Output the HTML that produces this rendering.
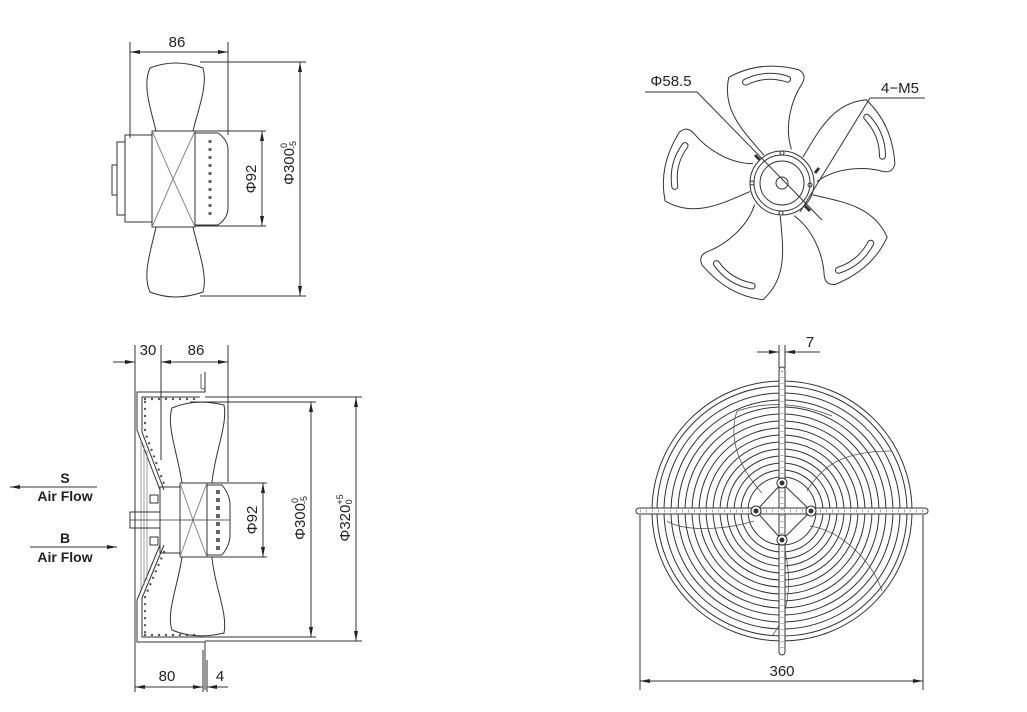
<!DOCTYPE html>
<html><head><meta charset="utf-8"><style>
html,body{margin:0;padding:0;background:#fff;}
svg{display:block;}
text{font-family:"Liberation Sans",sans-serif;fill:#222;}
</style></head><body>
<svg width="1027" height="712" viewBox="0 0 1027 712" xmlns="http://www.w3.org/2000/svg">
<defs>
<marker id="a" viewBox="0 0 10 4" refX="10" refY="2" markerWidth="10" markerHeight="4" orient="auto-start-reverse" markerUnits="userSpaceOnUse"><path d="M0,0 L10,2 L0,4 Z" fill="#222"/></marker>
<g id="blade">
<path d="M-14,-30 C-30,-55 -50,-80 -38,-112 Q-5,-125 32,-110 Q40,-104 34,-96 C20,-80 10,-55 14,-32" fill="#fff" stroke="#333" stroke-width="1"/>
<path d="M-22,-105 Q0,-112 20,-102" fill="none" stroke="#333" stroke-width="7" stroke-linecap="round"/>
<path d="M-22,-105 Q0,-112 20,-102" fill="none" stroke="#fff" stroke-width="5" stroke-linecap="round"/>
</g>
</defs>
<g fill="none" stroke="#333" stroke-width="1">
<!-- ===== TOP LEFT ===== -->
<line x1="130" y1="42" x2="130" y2="138"/><line x1="228" y1="42" x2="228" y2="135"/>
<line x1="130" y1="52" x2="228" y2="52" marker-start="url(#a)" marker-end="url(#a)"/>
<path d="M150,68 Q175,58 203,68 C208,85 198,110 193,131 L156,131 C151,110 142,85 150,68 Z"/>
<path d="M150,292 Q175,302 203,292 C208,275 198,250 193,227 L156,227 C151,250 142,275 150,292 Z"/>
<rect x="125" y="135" width="27" height="87"/><rect x="117" y="142" width="8" height="73"/>
<rect x="112" y="165" width="5" height="30"/>
<rect x="152" y="131" width="43" height="96"/>
<path d="M152,131 L173,179 L152,227 M195,131 L173,179 L195,227" stroke="#888"/>
<path d="M195,133 L218,133 Q228,140 228,150 L228,208 Q228,218 218,225 L195,225"/>
<path d="M210,140 V220" stroke-dasharray="3 5" stroke-width="3" stroke="#666"/>
<line x1="195" y1="131" x2="266" y2="131"/><line x1="195" y1="226" x2="266" y2="226"/>
<line x1="262" y1="131" x2="262" y2="226" marker-start="url(#a)" marker-end="url(#a)"/>
<line x1="200" y1="62" x2="306" y2="62"/><line x1="200" y1="296" x2="306" y2="296"/>
<line x1="300" y1="62" x2="300" y2="296" marker-start="url(#a)" marker-end="url(#a)"/>

<!-- ===== BOTTOM LEFT ===== -->
<line x1="135" y1="345" x2="135" y2="692"/><line x1="161" y1="345" x2="161" y2="460"/>
<line x1="228" y1="345" x2="228" y2="482"/>
<line x1="113" y1="362" x2="135" y2="362" marker-end="url(#a)"/>
<line x1="161" y1="362" x2="228" y2="362" marker-start="url(#a)" marker-end="url(#a)"/>
<path d="M205,372 L205,392 L137,392 L137,430 L160,490 L160,545 L137,600 L137,642 L205,642 L205,690"/>
<path d="M201,374 L201,388 Q203,390 205,388" stroke-width="0.8"/>
<path d="M200,397 L142,397 L142,432 L164,490 M164,545 L142,598 L142,637 L200,637"/>
<path d="M145,399 L198,399 M145,402 V432 L164,484 M164,552 L145,597 V635 M145,635 H198" stroke-dasharray="0 7" stroke-linecap="round" stroke-width="2.4" stroke="#555"/>
<path d="M141,440 V590 M144,445 V585 M147,450 V580" stroke="#777" stroke-width="0.7"/>
<path d="M172,408 Q195,398 224,405 C228,425 214,455 212,483 L182,483 C178,455 166,425 172,408 Z"/>
<path d="M172,630 Q195,640 224,633 C228,613 214,585 212,557 L182,557 C178,585 166,613 172,630 Z"/>
<rect x="160" y="487" width="20" height="66"/>
<rect x="180" y="483" width="27" height="74"/>
<path d="M180,483 L193,520 L180,557 M207,483 L193,520 L207,557" stroke="#888"/>
<path d="M207,485 L222,485 Q230,495 230,505 L230,535 Q230,545 222,555 L207,555"/>
<path d="M218,490 V552" stroke-dasharray="4 4" stroke-width="4" stroke="#666"/>
<rect x="130" y="512" width="30" height="16"/>
<line x1="130" y1="520" x2="230" y2="520" stroke-width="0.7"/>
<rect x="150" y="495" width="8" height="8"/><rect x="150" y="537" width="8" height="8"/>
<line x1="207" y1="483" x2="267" y2="483"/><line x1="207" y1="557" x2="267" y2="557"/>
<line x1="263" y1="483" x2="263" y2="557" marker-start="url(#a)" marker-end="url(#a)"/>
<line x1="190" y1="402" x2="316" y2="402"/><line x1="190" y1="637" x2="316" y2="637"/>
<line x1="311" y1="402" x2="311" y2="637" marker-start="url(#a)" marker-end="url(#a)"/>
<line x1="205" y1="397" x2="362" y2="397"/><line x1="205" y1="641" x2="362" y2="641"/>
<line x1="356" y1="397" x2="356" y2="641" marker-start="url(#a)" marker-end="url(#a)"/>
<line x1="203" y1="650" x2="203" y2="692"/><line x1="207" y1="660" x2="207" y2="692"/>
<line x1="135" y1="687" x2="203" y2="687" marker-start="url(#a)" marker-end="url(#a)"/>
<line x1="207" y1="687" x2="228" y2="687" marker-start="url(#a)"/>
<line x1="10" y1="487" x2="97" y2="487" marker-start="url(#a)"/>
<line x1="30" y1="547" x2="117" y2="547" marker-end="url(#a)"/>

<!-- ===== TOP RIGHT ===== -->
<g transform="translate(782,183)">
<use href="#blade" transform="rotate(-8)"/>
<use href="#blade" transform="rotate(64)"/>
<use href="#blade" transform="rotate(136)"/>
<use href="#blade" transform="rotate(208)"/>
<use href="#blade" transform="rotate(280)"/>
<circle r="32" fill="#fff"/><circle r="28"/><circle r="22"/><circle r="6"/>
<circle cx="0" cy="-30" r="2"/><circle cx="-30" cy="0" r="2"/><circle cx="28" cy="2" r="2"/><circle cx="-1" cy="30" r="2"/>
</g>
<path d="M645,92 L697,92 L822,220"/>
<path d="M925,98 L870,98 L800,212"/>
<line x1="755" y1="155" x2="760" y2="160" stroke-width="3"/>
<line x1="805" y1="206" x2="810" y2="211" stroke-width="3"/>
<line x1="815" y1="173" x2="819" y2="168" stroke-width="3"/>

<!-- ===== BOTTOM RIGHT ===== -->
<g transform="translate(782,511)">
<circle r="130"/><circle r="125"/><circle r="118"/><circle r="111"/><circle r="104"/><circle r="97"/><circle r="90"/><circle r="83"/><circle r="76"/><circle r="69"/><circle r="62"/><circle r="55"/><circle r="48"/><circle r="41"/><circle r="34"/>
<g stroke="#555" stroke-width="0.8">
<path d="M-20,-18 C-40,-40 -55,-70 -45,-100 Q0,-115 50,-95"/>
<path d="M25,-20 C40,-45 60,-60 110,-60"/>
<path d="M28,15 C60,20 90,50 100,80"/>
<path d="M0,30 C10,60 10,100 -10,125"/>
<path d="M-28,10 C-60,20 -100,20 -115,10"/>
</g>
<path d="M0,-28 L-26,0 L0,29 L29,0 Z" fill="#fff"/>
<line x1="-8" y1="0" x2="8" y2="0"/>
<rect x="-3" y="-144" width="6" height="288" rx="3" fill="#fff"/>
<rect x="-146" y="-3" width="292" height="6" rx="3" fill="#fff"/>
<line x1="0" y1="-140" x2="0" y2="140" stroke-dasharray="1 5" stroke-width="3" stroke="#aaa"/>
<line x1="-142" y1="0" x2="142" y2="0" stroke-dasharray="1 5" stroke-width="3" stroke="#aaa"/>
<circle cx="0" cy="-28" r="5" fill="#fff"/><circle cx="0" cy="-28" r="2" fill="#333"/>
<circle cx="-26" cy="0" r="5" fill="#fff"/><circle cx="-26" cy="0" r="2" fill="#333"/>
<circle cx="29" cy="0" r="5" fill="#fff"/><circle cx="29" cy="0" r="2" fill="#333"/>
<circle cx="0" cy="29" r="5" fill="#fff"/><circle cx="0" cy="29" r="2" fill="#333"/>
</g>
<line x1="779" y1="345" x2="779" y2="368"/><line x1="785" y1="345" x2="785" y2="368"/>
<line x1="757" y1="352" x2="779" y2="352" marker-end="url(#a)"/>
<line x1="785" y1="352" x2="820" y2="352" marker-start="url(#a)"/>
<line x1="640" y1="515" x2="640" y2="690"/><line x1="923" y1="515" x2="923" y2="690"/>
<line x1="640" y1="681" x2="923" y2="681" marker-start="url(#a)" marker-end="url(#a)"/>
</g>

<!-- TEXT -->
<g font-size="15">
<text x="177" y="47" text-anchor="middle">86</text>
<text transform="translate(256,179) rotate(-90)" text-anchor="middle">Φ92</text>
<text transform="translate(294,163) rotate(-90)" text-anchor="middle">Φ300<tspan font-size="9" dy="-7">0</tspan><tspan font-size="9" dx="-6" dy="9">-5</tspan></text>
<text x="148" y="355" text-anchor="middle">30</text>
<text x="196" y="355" text-anchor="middle">86</text>
<text transform="translate(257,520) rotate(-90)" text-anchor="middle">Φ92</text>
<text transform="translate(305,518) rotate(-90)" text-anchor="middle">Φ300<tspan font-size="9" dy="-7">0</tspan><tspan font-size="9" dx="-6" dy="9">-5</tspan></text>
<text transform="translate(350,518) rotate(-90)" text-anchor="middle">Φ320<tspan font-size="9" dy="-7">+5</tspan><tspan font-size="9" dx="-10" dy="9">0</tspan></text>
<text x="167" y="681" text-anchor="middle">80</text>
<text x="220" y="681" text-anchor="middle">4</text>
<text x="671" y="86" text-anchor="middle">Φ58.5</text>
<text x="900" y="93" text-anchor="middle">4−M5</text>
<text x="810" y="347" text-anchor="middle">7</text>
<text x="782" y="676" text-anchor="middle">360</text>
</g>
<g font-size="14" font-weight="bold" text-anchor="middle">
<text x="65" y="483">S</text>
<text x="65" y="501">Air Flow</text>
<text x="65" y="543">B</text>
<text x="65" y="562">Air Flow</text>
</g>
</svg>
</body></html>
